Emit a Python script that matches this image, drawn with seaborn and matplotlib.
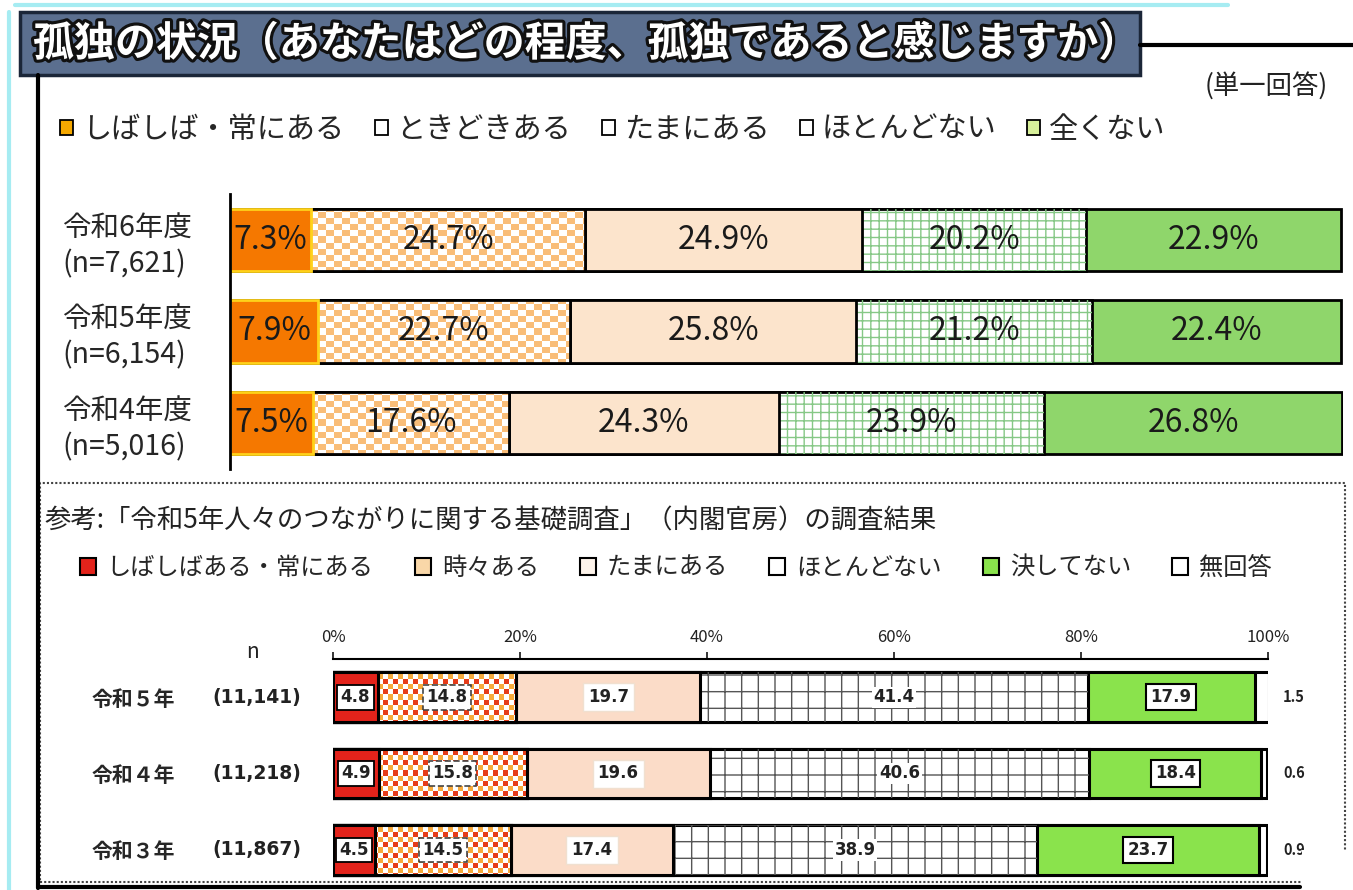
import numpy as np
import matplotlib.pyplot as plt
import matplotlib.patheffects as pe
import matplotlib.transforms as mtrans
from matplotlib.patches import Rectangle, Patch
from matplotlib.lines import Line2D
import seaborn as sns

sns.set_style('white')
plt.rcParams['font.family'] = ['Noto Sans CJK JP', 'DejaVu Sans']
plt.rcParams['hatch.linewidth'] = 1.0

# ---- data: this survey ----
top_rows = ["令和6年度\n(n=7,621)", "令和5年度\n(n=6,154)", "令和4年度\n(n=5,016)"]
top_cats = ["しばしば・常にある", "ときどきある", "たまにある", "ほとんどない", "全くない"]
top_often = [7.3, 7.9, 7.5]
top_sometimes = [24.7, 22.7, 17.6]
top_occasion = [24.9, 25.8, 24.3]
top_rarely = [20.2, 21.2, 23.9]
top_never = [22.9, 22.4, 26.8]

# ---- data: reference survey (内閣官房) ----
bot_rows = ["令和５年", "令和４年", "令和３年"]
bot_n = ["(11,141)", "(11,218)", "(11,867)"]
bot_cats = ["しばしばある・常にある", "時々ある", "たまにある", "ほとんどない", "決してない", "無回答"]
bot_often = [4.8, 4.9, 4.5]
bot_sometimes = [14.8, 15.8, 14.5]
bot_occasion = [19.7, 19.6, 17.4]
bot_rarely = [41.4, 40.6, 38.9]
bot_never = [17.9, 18.4, 23.7]
bot_noans = [1.5, 0.6, 0.9]
bot_ticks = [0, 20, 40, 60, 80, 100]

W, H = 1353, 890
def fx(px): return px / W
def fy(py): return 1 - py / H

fig = plt.figure(figsize=(W / 100, H / 100), dpi=100)
fig.patch.set_facecolor('white')

ax1 = fig.add_axes([fx(230), fy(469), fx(1343) - fx(230), fy(194) - fy(469)])
ax2 = fig.add_axes([fx(333), fy(888), fx(1268) - fx(333), fy(659) - fy(888)])


def make_pattern(ax, cell, colorfn):
    pos = ax.get_position()
    nx = int(pos.width * W / cell[0])
    ny = int(pos.height * H / cell[1])
    img = np.ones((ny, nx, 3))
    for i in range(ny):
        for j in range(nx):
            c = colorfn(i, j)
            if c is not None:
                img[i, j] = c
    return img


def stack(ax, rows, series, styles, width, xlim):
    # stacked bars: draw cumulative totals from the last segment to the first
    ax.set_xlim(*xlim)
    ax.set_ylim(len(rows) - 0.5, -0.5)
    cums = np.cumsum(np.array(series), axis=0)
    for k in range(len(series) - 1, -1, -1):
        st = styles[k]
        n0 = len(ax.patches)
        sns.barplot(x=cums[k], y=rows, width=width, errorbar=None, saturation=1,
                    color=st['fc'], edgecolor=st['ec'], linewidth=st['lw'],
                    zorder=2, ax=ax)
        bars = ax.patches[n0:]
        if 'hatch' in st:
            sns.barplot(x=cums[k], y=rows, width=width, errorbar=None, saturation=1,
                        facecolor='none', edgecolor=st['hc'], linewidth=0,
                        hatch=st['hatch'], zorder=2, ax=ax)
        if 'pattern' in st:
            img = st['pattern']
            for p in bars:
                im = ax.imshow(img, extent=(*xlim, len(rows) - 0.5, -0.5),
                               aspect='auto', interpolation='nearest', zorder=2)
                im.set_clip_path(p)
                ax.add_patch(Rectangle(p.get_xy(), p.get_width(), p.get_height(),
                                       fill=False, ec=st['ec'], lw=st['lw'], zorder=2))
        ax.set_xlim(*xlim)
        ax.set_ylim(len(rows) - 0.5, -0.5)
    starts = np.vstack([np.zeros(len(rows)), cums[:-1]])
    return starts


# ================= top chart =================
orange_sq = np.array([249, 189, 120]) / 255
top_styles = [
    dict(fc='#F57800', ec='#FFD21A', lw=2),
    dict(fc='white', ec='black', lw=2,
         pattern=make_pattern(ax1, (8, 6),
                              lambda i, j: orange_sq if (i + j) % 2 == 0 else None)),
    dict(fc='#FCE4CC', ec='black', lw=2),
    dict(fc='white', ec='black', lw=2, hatch='++', hc='#86C886'),
    dict(fc='#8FD66B', ec='black', lw=2),
]
top_series = [top_often, top_sometimes, top_occasion, top_rarely, top_never]
starts = stack(ax1, top_rows, top_series, top_styles, 0.68, (0, 100.2))

for k, vals in enumerate(top_series):
    for i, v in enumerate(vals):
        ax1.text(starts[k][i] + v / 2, i, f"{v}%", ha='center', va='center',
                 fontsize=23, color='#1a1a1a', zorder=5)

ax1.set_xticks([])
ax1.set_xlabel('')
ax1.set_ylabel('')
ax1.set_yticks(range(len(top_rows)))
ax1.set_yticklabels(top_rows, fontsize=20.5, ha='left', linespacing=1.25)
ax1.tick_params(axis='y', length=0, pad=(230 - 62) * 0.72)
for s in ['top', 'right', 'bottom']:
    ax1.spines[s].set_visible(False)
ax1.spines['left'].set_linewidth(2)
ax1.spines['left'].set_color('black')
ax1.set_facecolor('none')

# ================= bottom chart =================
red_dot = np.array([230, 60, 25]) / 255
orn_dot = np.array([247, 170, 60]) / 255
bot_styles = [
    dict(fc='#E3231B', ec='black', lw=2.2),
    dict(fc='white', ec='black', lw=2.2,
         pattern=make_pattern(ax2, (5, 5),
                              lambda i, j: (red_dot if i % 2 == 0 else orn_dot)
                              if (i + j) % 2 == 0 else None)),
    dict(fc='#FBDCC8', ec='black', lw=2.2),
    dict(fc='white', ec='black', lw=2.2, hatch='+', hc='#555555'),
    dict(fc='#8AE34C', ec='black', lw=2.2),
    dict(fc='white', ec='black', lw=2.2),
]
bot_series = [bot_often, bot_sometimes, bot_occasion, bot_rarely, bot_never, bot_noans]
starts2 = stack(ax2, bot_rows, bot_series, bot_styles, 0.65, (0, 100))

box_styles = [
    dict(boxstyle='square,pad=0.2', fc='white', ec='black', lw=1.3),
    dict(boxstyle='square,pad=0.2', fc='white', ec='#444444', lw=1.2, ls='--'),
    dict(boxstyle='square,pad=0.3', fc='white', ec='#f0e0d0', lw=1),
    dict(boxstyle='square,pad=0.1', fc='white', ec='none'),
    dict(boxstyle='square,pad=0.25', fc='white', ec='black', lw=1.5),
]
for k, vals in enumerate(bot_series[:5]):
    for i, v in enumerate(vals):
        ax2.text(starts2[k][i] + v / 2, i, f"{v}", ha='center', va='center',
                 fontsize=12, weight='bold', family='DejaVu Sans', color='#222222',
                 bbox=box_styles[k], zorder=5)
for i, v in enumerate(bot_noans):
    ax2.text(101.6, i, f"{v}", ha='left', va='center', fontsize=10.5,
             weight='bold', color='#222222')

ax2.xaxis.tick_top()
ax2.set_xticks(bot_ticks)
ax2.set_xticklabels([f"{t}%" for t in bot_ticks], fontsize=12, color='#222222')
ax2.tick_params(axis='x', length=5, width=1.3, pad=4, direction='out')
ax2.set_xlabel('')
ax2.set_ylabel('')
ax2.set_yticks(range(len(bot_rows)))
ax2.set_yticklabels(bot_rows, fontsize=15, weight='bold', ha='left')
ax2.tick_params(axis='y', length=0, pad=(333 - 92) * 0.72)
for s in ['left', 'right', 'bottom']:
    ax2.spines[s].set_visible(False)
ax2.spines['top'].set_linewidth(1.5)
ax2.spines['top'].set_color('black')
ax2.set_facecolor('none')
trans = mtrans.blended_transform_factory(fig.transFigure, ax2.transData)
for i, n in enumerate(bot_n):
    ax2.text(fx(212), i, n, transform=trans, ha='left', va='center',
             fontsize=13.5, weight='bold', family='DejaVu Sans', color='#222222')
fig.text(fx(253), fy(652), "n", fontsize=15, ha='center', va='center', color='#222222')

# ================= frame, titles, legends =================
fig.add_artist(Line2D([fx(9), fx(9)], [fy(12), fy(890)], color='#A6ECF2', lw=3))
fig.add_artist(Line2D([fx(15), fx(1228)], [fy(5), fy(5)], color='#A6ECF2', lw=3))
fig.add_artist(Line2D([fx(38), fx(38)], [fy(75), fy(888)], color='black', lw=3))
fig.add_artist(Line2D([fx(38), fx(1300)], [fy(887), fy(887)], color='black', lw=3))
fig.add_artist(Line2D([fx(1140), fx(1353)], [fy(45), fy(45)], color='black', lw=3))
fig.add_artist(Rectangle((fx(40), fy(882)), fx(1345) - fx(40), fy(483) - fy(882),
                         transform=fig.transFigure, fill=False, ec='#444444',
                         lw=1.5, ls=(0, (1, 1))))
fig.add_artist(Rectangle((fx(20), fy(75)), fx(1140) - fx(20), fy(12) - fy(75),
                         transform=fig.transFigure, fc='#5B6F8F', ec='#1B2638', lw=2.5))
fig.text(fx(33), fy(44), "孤独の状況（あなたはどの程度、孤独であると感じますか）",
         color='white', fontsize=29.5, weight='bold', va='center',
         path_effects=[pe.withStroke(linewidth=4.5, foreground='#111111')])
fig.text(fx(1205), fy(86), "(単一回答)", fontsize=19, va='center', color='#222222')
fig.text(fx(45), fy(521), "参考:「令和5年人々のつながりに関する基礎調査」（内閣官房）の調査結果",
         fontsize=19, va='center', color='#222222')

top_handles = [Patch(fc=c, ec='black', lw=1.3) for c in
               ['#F5A800', 'white', 'white', 'white', '#D8F09A']]
fig.legend(top_handles, top_cats, loc='center left', bbox_to_anchor=(fx(60), fy(130)),
           ncol=5, frameon=False, fontsize=21, handlelength=0.45, handleheight=0.45,
           handletextpad=0.3, columnspacing=1.05, borderpad=0, borderaxespad=0)

bot_handles = [Patch(fc=c, ec='black', lw=1.5) for c in
               ['#E3231B', '#F9D7A8', '#FDF3EA', 'white', '#8AE34C', 'white']]
fig.legend(bot_handles, bot_cats, loc='center left', bbox_to_anchor=(fx(80), fy(568)),
           ncol=6, frameon=False, fontsize=17.5, handlelength=0.65, handleheight=0.65,
           handletextpad=0.45, columnspacing=1.7, borderpad=0, borderaxespad=0)

fig.add_artist(Rectangle((fx(1302), fy(890)), fx(1353) - fx(1302), fy(850) - fy(890),
                         transform=fig.transFigure, fc='white', ec='none', zorder=10))

fig.savefig('out.png', dpi=100)
